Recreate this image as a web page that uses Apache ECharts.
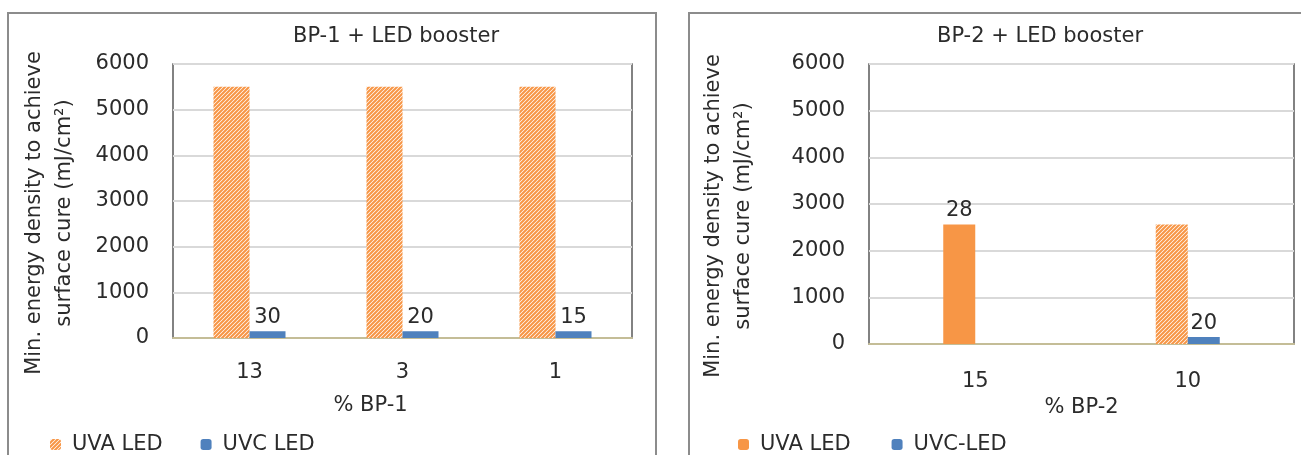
<!DOCTYPE html>
<html><head><meta charset="utf-8">
<script src="https://cdn.jsdelivr.net/npm/echarts@6/dist/echarts.min.js"></script>
<style>html,body{margin:0;padding:0;background:#fff}#c{width:1301px;height:455px}</style>
</head><body><div id="c"></div>
<script>
// ---- data ----
const bp1Categories = ['13', '3', '1'];
const bp1Uva = [5500, 5500, 5500];
const bp1Uvc = [150, 150, 150];
const bp1UvcLabels = ['30', '20', '15'];

const bp2Categories = ['15', '10'];
const bp2Uva = [2560, 2560];
const bp2UvaHatched = [false, true];
const bp2UvaLabels = ['28', ''];
const bp2Uvc = [null, 150];
const bp2UvcLabels = ['', '20'];

const yMin = 0, yMax = 6000, yStep = 1000;

// ---- style ----
const ORANGE = '#F79646';
const BLUE = '#4F81BD';
const TXT = '#2b2b2b';
const FONT = 'DejaVu Sans';
const FS = 21;

function hatchCanvas() {
  const s = 4;
  const c = document.createElement('canvas');
  c.width = s; c.height = s;
  const g = c.getContext('2d');
  g.fillStyle = '#fff'; g.fillRect(0, 0, s, s);
  g.strokeStyle = ORANGE; g.lineWidth = 2.1;
  g.beginPath();
  g.moveTo(-2, 2); g.lineTo(2, -2);
  g.moveTo(-1, s + 1); g.lineTo(s + 1, -1);
  g.moveTo(s - 2, s + 2); g.lineTo(s + 2, s - 2);
  g.stroke();
  return c;
}
const hatchFill = { image: hatchCanvas(), repeat: 'repeat' };

const txt = { fontFamily: FONT, fontSize: FS, color: TXT };

function yAxis(gridIndex, gap) {
  return {
    type: 'value', gridIndex, min: yMin, max: yMax, interval: yStep,
    axisLine: { show: false }, axisTick: { show: false },
    axisLabel: Object.assign({ margin: 24, formatter: v => String(v) }, txt),
    splitLine: { lineStyle: { color: '#d9d9d9', width: 2 } },
    name: 'Min. energy density to achieve\nsurface cure (mJ/cm²)',
    nameLocation: 'middle', nameGap: gap,
    nameTextStyle: Object.assign({ lineHeight: 30, padding: [0, 24, 0, 0] }, txt)
  };
}
function xAxis(gridIndex, cats, name, gap, margin, pad) {
  return {
    type: 'category', gridIndex, data: cats,
    axisLine: { lineStyle: { color: '#c4bd97', width: 2 } },
    axisTick: { show: false },
    axisLabel: Object.assign({ margin }, txt),
    name, nameLocation: 'middle', nameGap: gap,
    nameTextStyle: Object.assign({ padding: pad }, txt)
  };
}

const chart = echarts.init(document.getElementById('c'), null, { renderer: 'canvas' });
chart.setOption({
  animation: false,
  backgroundColor: '#fff',
  grid: [
    { left: 173, right: 1301 - 632, top: 64, bottom: 455 - 338, show: true, borderColor: '#595959', borderWidth: 1.5, backgroundColor: 'transparent' },
    { left: 869, right: 1301 - 1294, top: 64, bottom: 455 - 344, show: true, borderColor: '#595959', borderWidth: 1.5, backgroundColor: 'transparent' }
  ],
  xAxis: [
    xAxis(0, bp1Categories, '% BP-1', 57, 24, [0, 64, 0, 0]),
    xAxis(1, bp2Categories, '% BP-2', 48, 27, [0, 0, 0, 0])
  ],
  yAxis: [yAxis(0, 93), yAxis(1, 110)],
  legend: [
    {
      left: 50, top: 434, padding: 0, itemWidth: 11, itemHeight: 11, itemGap: 38,
      data: ['UVA LED', 'UVC LED'], selectedMode: false,
      textStyle: Object.assign({ padding: [0, 0, 0, 6] }, txt)
    },
    {
      left: 738, top: 434, padding: 0, itemWidth: 11, itemHeight: 11, itemGap: 41,
      data: [{ name: 'UVA LED', itemStyle: { color: ORANGE } }, 'UVC-LED'], selectedMode: false,
      textStyle: Object.assign({ padding: [0, 0, 0, 6] }, txt)
    }
  ],
  graphic: [
    { type: 'rect', shape: { x: 8, y: 13, width: 648, height: 470 }, style: { fill: 'none', stroke: '#8c8c8c', lineWidth: 2 }, silent: true },
    { type: 'rect', shape: { x: 689, y: 13, width: 640, height: 470 }, style: { fill: 'none', stroke: '#8c8c8c', lineWidth: 2 }, silent: true },
    { type: 'text', x: 396, y: 37, style: { text: 'BP-1 + LED booster', fill: TXT, font: FS + 'px "' + FONT + '"', align: 'center', verticalAlign: 'middle' }, silent: true },
    { type: 'text', x: 1040, y: 37, style: { text: 'BP-2 + LED booster', fill: TXT, font: FS + 'px "' + FONT + '"', align: 'center', verticalAlign: 'middle' }, silent: true }
  ],
  series: [
    {
      name: 'UVA LED', type: 'bar', xAxisIndex: 0, yAxisIndex: 0,
      data: bp1Uva, barWidth: 36, barGap: '0%',
      itemStyle: { color: hatchFill }
    },
    {
      name: 'UVC LED', type: 'bar', xAxisIndex: 0, yAxisIndex: 0,
      data: bp1Uvc, barWidth: 36, barGap: '0%',
      itemStyle: { color: BLUE },
      label: Object.assign({ show: true, position: 'top', distance: 3,
        formatter: p => bp1UvcLabels[p.dataIndex] }, txt)
    },
    {
      name: 'UVA LED', type: 'bar', xAxisIndex: 1, yAxisIndex: 1,
      data: bp2Uva.map((v, i) => bp2UvaHatched[i] ? { value: v, itemStyle: { color: hatchFill } } : v),
      barWidth: 32, barGap: '0%',
      itemStyle: { color: ORANGE },
      label: Object.assign({ show: true, position: 'top', distance: 3,
        formatter: p => bp2UvaLabels[p.dataIndex] }, txt)
    },
    {
      name: 'UVC-LED', type: 'bar', xAxisIndex: 1, yAxisIndex: 1,
      data: bp2Uvc, barWidth: 32, barGap: '0%',
      itemStyle: { color: BLUE },
      label: Object.assign({ show: true, position: 'top', distance: 3,
        formatter: p => bp2UvcLabels[p.dataIndex] }, txt)
    }
  ]
});
</script>
</body></html>
